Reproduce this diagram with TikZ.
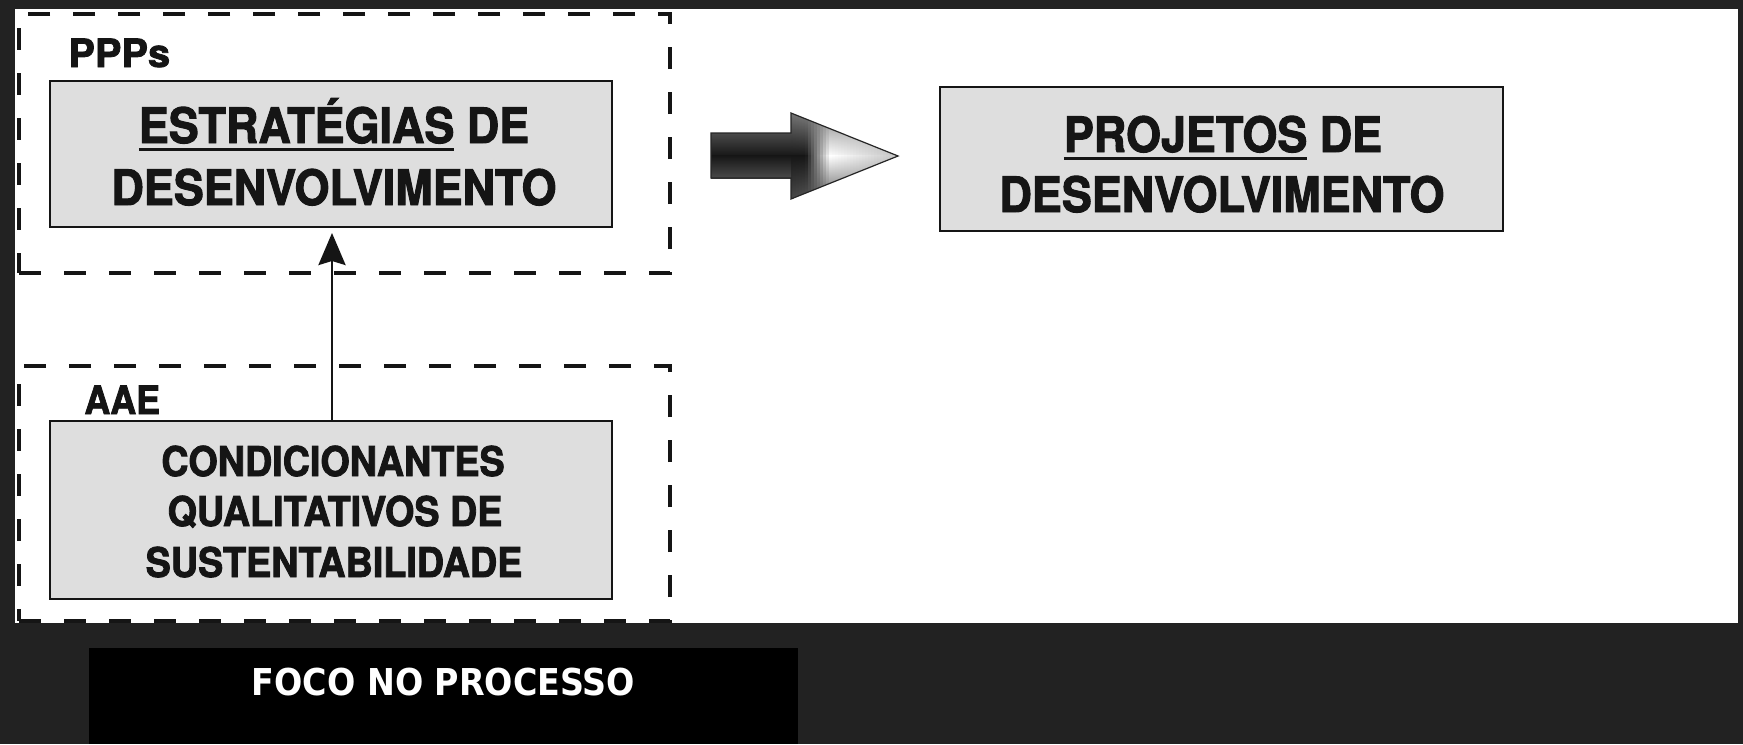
\documentclass[tikz,border=0pt]{standalone}
\usepackage{fontspec}
\usetikzlibrary{arrows.meta}
\setmainfont{TeX Gyre Heros}
\newfontfamily\hb[FakeStretch=0.92,FakeBold=2]{TeX Gyre Heros}
\newfontfamily\hl[FakeStretch=1.02,FakeBold=2]{TeX Gyre Heros}
\newfontfamily\dv[FakeStretch=0.9]{DejaVu Sans}
\definecolor{bg}{HTML}{222222}
\definecolor{boxfill}{HTML}{DEDEDE}
\definecolor{ink}{HTML}{151515}
\definecolor{aa}{HTML}{262626}
\definecolor{ab}{HTML}{161616}
\definecolor{shaftedge}{HTML}{4A4A4A}
\definecolor{headtop}{HTML}{747474}
\definecolor{headbot}{HTML}{484848}
\newcommand\ulx[1]{\setbox0=\hbox{#1}\rlap{\rule[-4pt]{\wd0}{1.5pt}}\box0\relax}
\begin{document}
\begin{tikzpicture}[x=0.5pt,y=-0.5pt,
  frame/.style={draw=ink, line width=1.75pt, dash pattern=on 11pt off 11.5pt, inner sep=0pt, outer sep=0pt},
  gbox/.style={draw=ink, fill=boxfill, line width=1.4pt, inner sep=0pt, outer sep=0pt},
  big/.style={font=\hb\bfseries\fontsize{24.4}{30.5}\selectfont, text=ink, anchor=base, inner sep=0pt},
  mid/.style={font=\hb\bfseries\fontsize{20.5}{25}\selectfont, text=ink, anchor=base, inner sep=0pt},
  lab/.style={font=\hb\bfseries\fontsize{19.5}{22}\selectfont, text=ink, anchor=base west, inner sep=0pt}]
\useasboundingbox (0,0) rectangle (1743,744);
\fill[bg] (0,0) rectangle (1743,744);
\fill[white] (15,9) rectangle (1738,623);
% dashed frames
\node[frame, minimum width=325.5pt, minimum height=129.5pt] (pppsframe) at (344.5,143.5) {};
\node[frame, minimum width=325.5pt, minimum height=127.5pt] (aaeframe) at (344.5,493.5) {};
\node[lab, font=\hl\bfseries\fontsize{19.5}{22}\selectfont] (ppps) at (68,67) {PPPs};
\node[lab] (aae) at (84,414) {AAE};
% boxes
\node[gbox, minimum width=281pt, minimum height=73pt] (est) at (331,154) {};
\node[big] (est1) at (334,143) {\ulx{ESTRATÉGIAS} DE};
\node[big] (est2) at (334,205) {DESENVOLVIMENTO};
\node[gbox, minimum width=281.5pt, minimum height=72pt] (proj) at (1221.5,159) {};
\node[big] (proj1) at (1223,152) {\ulx{PROJETOS} DE};
\node[big] (proj2) at (1222,212) {DESENVOLVIMENTO};
\node[gbox, minimum width=281pt, minimum height=89pt] (cond) at (331,510) {};
\node[mid] (c1) at (333,476) {CONDICIONANTES};
\node[mid] (c2) at (335,526) {QUALITATIVOS DE};
\node[mid] (c3) at (334,577) {SUSTENTABILIDADE};
% vertical connector
\coordinate (vx) at (332,0);
\draw[line width=1.4pt, ink, -{Stealth[length=16pt,width=13.5pt,inset=2pt]}, shorten >=3pt]
  (cond.north -| vx) -- (est.south -| vx);
% big shaded arrow
\coordinate (s1) at (711,133);
\coordinate (s2) at (791,133);
\coordinate (h1) at (791,113);
\coordinate (tip) at (898,156);
\coordinate (h2) at (791,199);
\coordinate (s3) at (791,178);
\coordinate (s4) at (711,178);
\shade[top color=shaftedge, bottom color=ab] (711,133) rectangle (791.5,156);
\shade[top color=ab, bottom color=shaftedge] (711,155.5) rectangle (791.5,178);
\begin{scope}
  \clip (h1) -- (tip) -- (h2) -- cycle;
  \foreach \i in {0,...,36} {
    \pgfmathsetmacro\xa{790+3*\i}
    \pgfmathsetmacro\xb{\xa+3.8}
    \pgfmathsetmacro\xm{\xa+1.5}
    \pgfmathsetmacro\p{(\xm<806) ? 0 : ((\xm<830) ? ((\xm-806)/24*100) : (100-min(25,(\xm-830)/68*25)))}
    \pgfmathsetmacro\q{min(40,max(0,(\xm-791)/107*40))}
    \colorlet{mc}{white!\p!ab}
    \colorlet{tc}{white!\q!headtop}
    \colorlet{bc}{white!\q!headbot}
    \shade[top color=tc, bottom color=mc] (\xa,113) rectangle (\xb,156.3);
    \shade[top color=mc, bottom color=bc] (\xa,155.7) rectangle (\xb,199);
  }
\end{scope}
\draw[line width=0.6pt, aa, line join=miter] (s1) -- (s2) -- (h1) -- (tip) -- (h2) -- (s3) -- (s4) -- cycle;
% bottom caption
\node[fill=black, minimum width=354.5pt, minimum height=48pt, inner sep=0pt, outer sep=0pt] (foco) at (443.5,696) {};
\node[anchor=base, inner sep=0pt, font=\dv\bfseries\fontsize{18.5}{22}\selectfont, text=white] (focot) at (443.5,695) {FOCO NO PROCESSO};
\end{tikzpicture}
\end{document}
